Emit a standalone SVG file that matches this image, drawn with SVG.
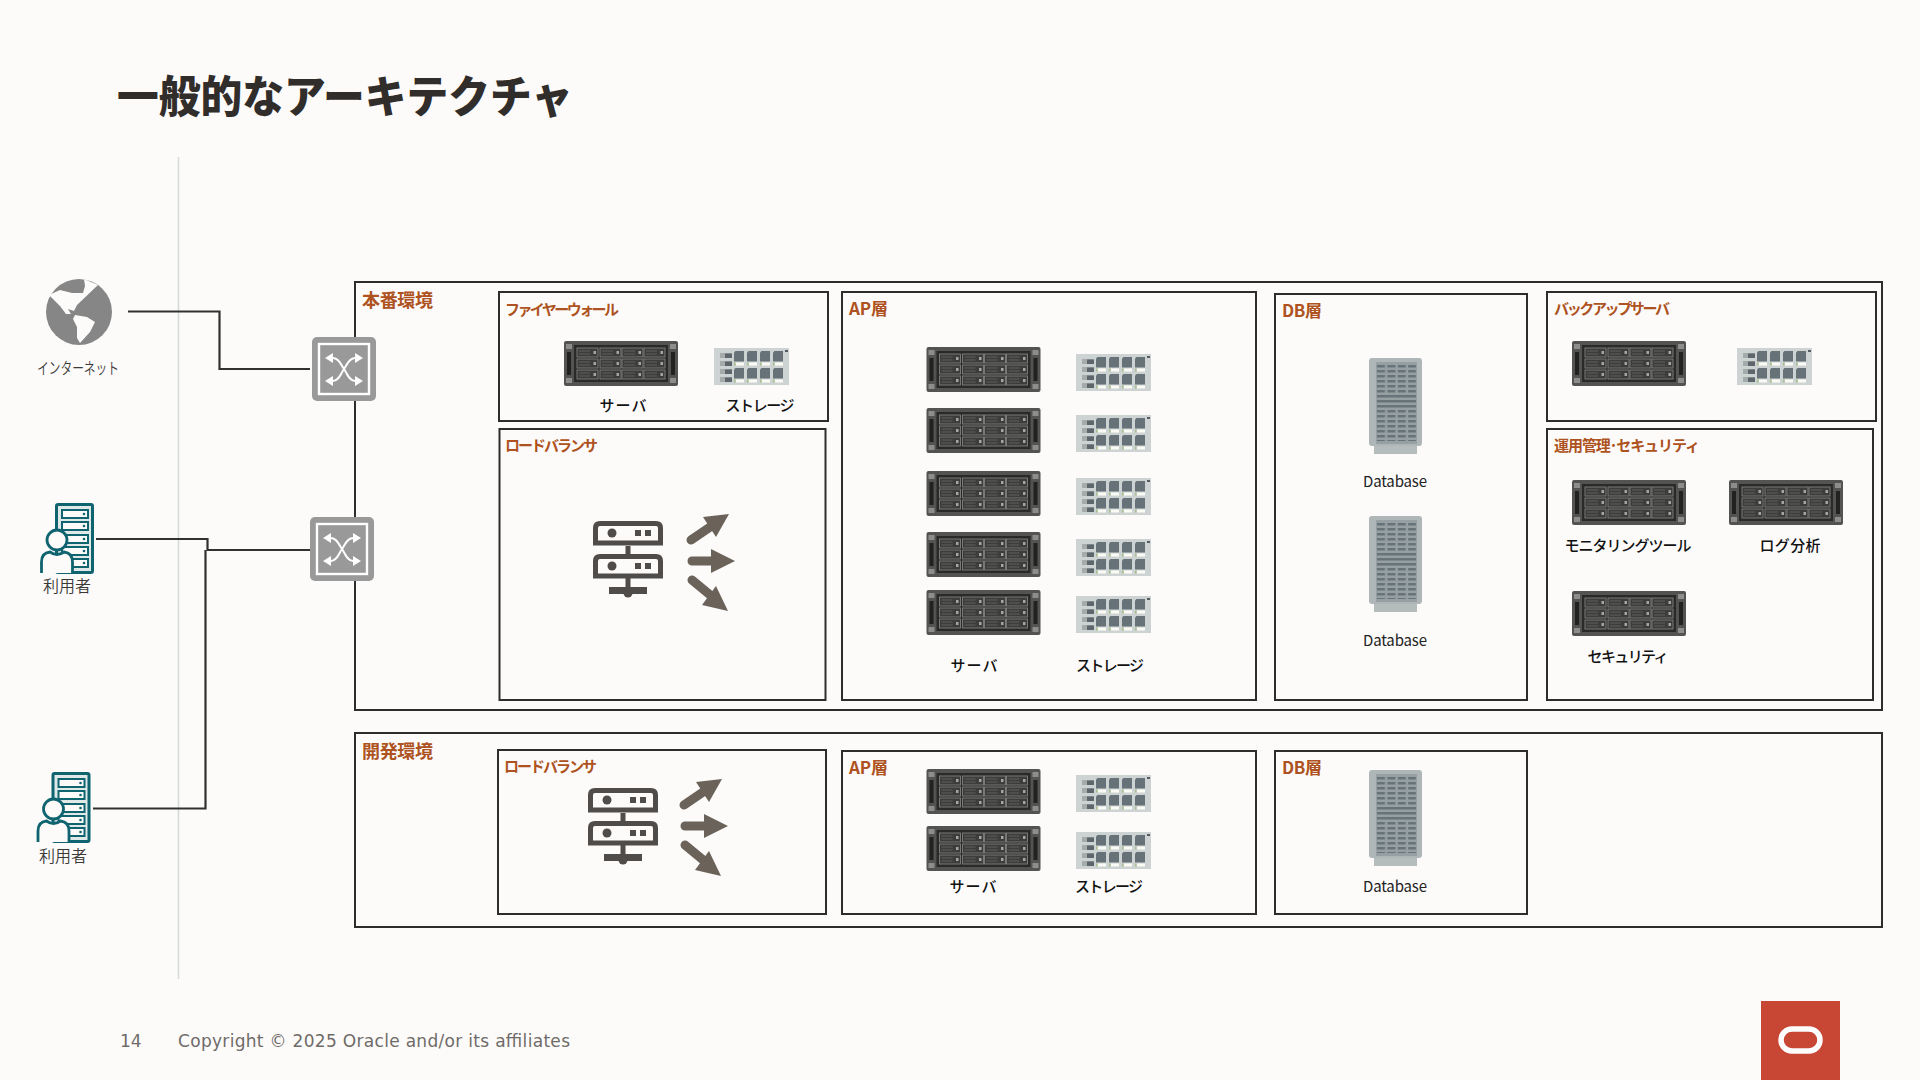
<svg xmlns="http://www.w3.org/2000/svg" width="1920" height="1080" viewBox="0 0 1920 1080">
<style>
text{font-family:"Noto Sans CJK JP","Noto Sans",sans-serif}
.title{font-size:44px;font-weight:900;fill:#312d2a}
.env{font-size:18px;font-weight:700;fill:#ad5220}
.tier{font-size:15px;font-weight:700;fill:#ad5220}
.tl{font-size:17px}
.lbl{font-size:15px;font-weight:500;fill:#111;text-anchor:middle}
.dbl{font-size:15px;font-weight:400;fill:#222;text-anchor:middle}
.usr{font-size:16px;font-weight:350;fill:#3a3937;text-anchor:middle}
.foot{font-family:"DejaVu Sans",sans-serif;font-size:17px;fill:#6f6b68}
.box{fill:none;stroke:#2f2d2b;stroke-width:2}
.conn{fill:none;stroke:#33312f;stroke-width:2.2}
.lb-dark{fill:none;stroke:#4f4c4a;stroke-width:5}
</style>
<defs>
<g id="cell">
<rect width="21" height="9" fill="#3d3d3b" stroke="#797977" stroke-width="1"/>
<path d="M2 3H13M2 6H13" stroke="#6a6a68" stroke-width="0.800"/>
<rect x="16.500" y="3" width="2.500" height="3" fill="#a5a5a3"/>
</g>
<g id="server">
<rect width="114" height="45" rx="2" fill="#535351"/>
<rect x="2" y="3" width="6" height="5" fill="#8d8d8b"/><rect x="106" y="3" width="6" height="5" fill="#8d8d8b"/>
<rect x="2" y="37" width="6" height="5" fill="#8d8d8b"/><rect x="106" y="37" width="6" height="5" fill="#8d8d8b"/>
<rect x="3" y="11" width="4" height="23" fill="#222"/><rect x="107" y="11" width="4" height="23" fill="#222"/>
<rect x="10" y="4" width="94" height="37" fill="#2a2a29"/>
<use href="#cell" x="13" y="7"/><use href="#cell" x="36" y="7"/><use href="#cell" x="58" y="7"/><use href="#cell" x="80" y="7"/>
<use href="#cell" x="13" y="18"/><use href="#cell" x="36" y="18"/><use href="#cell" x="58" y="18"/><use href="#cell" x="80" y="18"/>
<use href="#cell" x="13" y="29"/><use href="#cell" x="36" y="29"/><use href="#cell" x="58" y="29"/><use href="#cell" x="80" y="29"/>
</g>
<g id="stcell">
<path d="M1.500 0H10V10.500H0V1.500Z" fill="#667278"/>
<rect x="2" y="11.500" width="8" height="3" fill="#fbfbf6"/>
<rect y="11.500" width="1.500" height="3" fill="#a9c08a"/>
</g>
<g id="stmod"><rect width="12" height="5" fill="#a3abab"/><rect x="5" y="0.500" width="7" height="4.500" fill="#5d676b"/></g>
<g id="storage">
<rect width="75" height="37" fill="#cdd3d2"/>
<use href="#stmod" x="6" y="5"/><use href="#stmod" x="6" y="13"/><use href="#stmod" x="6" y="21"/><use href="#stmod" x="6" y="29"/>
<use href="#stcell" x="20" y="3"/><use href="#stcell" x="33" y="3"/><use href="#stcell" x="46" y="3"/><use href="#stcell" x="59" y="3"/>
<use href="#stcell" x="20" y="20"/><use href="#stcell" x="33" y="20"/><use href="#stcell" x="46" y="20"/><use href="#stcell" x="59" y="20"/>
<rect x="71" y="2" width="3" height="2" fill="#555f63"/>
</g>
<pattern id="dbq" width="10.400" height="5" patternUnits="userSpaceOnUse" x="8" y="7"><rect width="8" height="2.500" fill="#667378"/></pattern>
<g id="db">
<rect x="5" y="84" width="43" height="12" fill="#b5bcbc"/>
<rect width="53" height="88" rx="3" fill="#aeb6b7"/>
<rect x="7" y="4" width="41" height="82" fill="#96a0a3"/>
<rect x="8" y="7" width="39" height="29" fill="url(#dbq)"/>
<rect x="8" y="37" width="39" height="2.500" fill="#667378"/><rect x="8" y="42" width="39" height="2.500" fill="#667378"/><rect x="8" y="47" width="39" height="2.500" fill="#667378"/>
<rect x="8" y="52" width="39" height="31" fill="url(#dbq)"/>
</g>
<g id="switch">
<rect width="64" height="64" rx="5" fill="#999"/>
<rect x="7" y="7" width="50" height="50" fill="none" stroke="#fff" stroke-width="2.400"/>
<path d="M16 21H21C27 21 29 28 32 32C35 36 37 44 43 44H48M16 44H21C27 44 29 36 32 32C35 28 37 21 43 21H48" fill="none" stroke="#fff" stroke-width="2"/>
<path d="M13 21L21 16V26ZM13 44L21 39V49ZM51 21L43 16V26ZM51 44L43 39V49Z" fill="#fff"/>
</g>
<g id="lb">
<path class="lb-dark" d="M25.500 43V28Q25.500 23.500 30 23.500H86Q90.500 23.500 90.500 28V43ZM25.500 76V61Q25.500 56.500 30 56.500H86Q90.500 56.500 90.500 61V76Z"/>
<path d="M58 46V56M58 78V92" stroke="#4f4c4a" stroke-width="5" fill="none"/>
<rect x="39" y="87" width="38" height="7" fill="#4f4c4a"/><circle cx="58" cy="93" r="4.500" fill="#4f4c4a"/>
<g fill="#4f4c4a"><circle cx="42" cy="33" r="4.500"/><circle cx="42" cy="66" r="4.500"/><rect x="65" y="30" width="6" height="6"/><rect x="75" y="30" width="6" height="6"/><rect x="65" y="63" width="6" height="6"/><rect x="75" y="63" width="6" height="6"/></g>
</g>
<g id="lbarrows">
<path d="M121 40L146 23M122 61H145M122 80L145 99" stroke="#6b625a" stroke-width="9" stroke-linecap="round" fill="none"/>
<path d="M159 14L133 17L146 37ZM165 61L141 49V73ZM158 111L132 105L146 86Z" fill="#6b625a"/>
</g>
<g id="usersrv">
<rect x="-0.500" y="0.500" width="36" height="68" rx="1.500" fill="#dfe9e8" stroke="#0f6470" stroke-width="3"/>
<g fill="#fcfbfa" stroke="#0f6470" stroke-width="2">
<rect x="5" y="6" width="26" height="8"/><rect x="5" y="18" width="26" height="8"/><rect x="5" y="31" width="26" height="8"/><rect x="5" y="43" width="26" height="8"/><rect x="5" y="55" width="26" height="8"/>
</g>
<g fill="#0f6470"><circle cx="27" cy="10" r="1.300"/><circle cx="27" cy="22" r="1.300"/><circle cx="27" cy="35" r="1.300"/><circle cx="27" cy="47" r="1.300"/><circle cx="27" cy="59" r="1.300"/></g>
<path d="M-15.500 69V58Q-15.500 49 -7 48Q0 53 7 48Q15.500 49 15.500 58V69Z" fill="#fcfbfa"/>
<path d="M-15.500 69V58Q-15.500 49 -7 48Q0 53 7 48Q15.500 49 15.500 58V69" fill="none" stroke="#0f6470" stroke-width="2.800"/>
<circle cx="0" cy="36" r="10" fill="#fcfbfa" stroke="#0f6470" stroke-width="2.800"/>
</g>
</defs>
<rect width="1920" height="1080" fill="#fcfbfa"/>
<text class="title" x="117" y="113" textLength="456" lengthAdjust="spacingAndGlyphs">一般的なアーキテクチャ</text>
<line x1="178.500" y1="157" x2="178.500" y2="979" stroke="#d3dbd8" stroke-width="1.500"/>

<g id="env-prod"><rect class="box" x="355" y="282" width="1527" height="428"/><text class="env" x="362" y="307" textLength="71">本番環境</text></g>
<g id="env-dev"><rect class="box" x="355" y="733" width="1527" height="194"/><text class="env" x="362" y="758" textLength="71">開発環境</text></g>

<g id="connectors">
<path class="conn" d="M128 311.500H219.500V369H310"/>
<path class="conn" d="M96 539H207.500V550H310"/>
<path class="conn" d="M205.500 550V808.500H93"/>
</g>

<g id="firewall">
<rect class="box" x="499" y="292" width="329" height="129"/>
<text class="tier" x="505" y="315" textLength="114">ファイヤーウォール</text>
<use href="#server" x="564" y="341"/><use href="#storage" x="714" y="348"/>
<text class="lbl" x="623" y="411" textLength="47">サーバ</text><text class="lbl" x="760" y="411" textLength="69">ストレージ</text>
</g>
<g id="lb-prod">
<rect class="box" x="499.500" y="429" width="326" height="271"/>
<text class="tier" x="505" y="451" textLength="93">ロードバランサ</text>
<use href="#lb" x="570" y="500"/><use href="#lbarrows" x="570" y="500"/>
</g>
<g id="ap-prod">
<rect class="box" x="842" y="292" width="414" height="408"/>
<text class="tier tl" x="849" y="315" textLength="39">AP層</text>
<use href="#server" x="926.500" y="347"/><use href="#server" x="926.500" y="408"/><use href="#server" x="926.500" y="471"/><use href="#server" x="926.500" y="532"/><use href="#server" x="926.500" y="590"/>
<use href="#storage" x="1076" y="354"/><use href="#storage" x="1076" y="415"/><use href="#storage" x="1076" y="478"/><use href="#storage" x="1076" y="539"/><use href="#storage" x="1076" y="596"/>
<text class="lbl" x="974" y="671" textLength="47">サーバ</text><text class="lbl" x="1110" y="671" textLength="68">ストレージ</text>
</g>
<g id="db-prod">
<rect class="box" x="1275" y="294" width="252" height="406"/>
<text class="tier tl" x="1282" y="317" textLength="40">DB層</text>
<use href="#db" x="1369" y="358"/><text class="dbl" x="1395" y="487" textLength="64">Database</text>
<use href="#db" x="1369" y="516"/><text class="dbl" x="1395" y="646" textLength="64">Database</text>
</g>
<g id="backup">
<rect class="box" x="1547" y="292" width="329" height="129"/>
<text class="tier" x="1554" y="314" textLength="116">バックアップサーバ</text>
<use href="#server" x="1572" y="341"/><use href="#storage" x="1737" y="348"/>
</g>
<g id="ops">
<rect class="box" x="1547" y="429" width="326" height="271"/>
<text class="tier" x="1554" y="451" textLength="146">運用管理･セキュリティ</text>
<use href="#server" x="1572" y="480"/><use href="#server" x="1729" y="480"/><use href="#server" x="1572" y="591"/>
<text class="lbl" x="1628" y="551" textLength="127">モニタリングツール</text><text class="lbl" x="1790" y="551" textLength="61">ログ分析</text><text class="lbl" x="1628" y="662" textLength="81">セキュリティ</text>
</g>
<g id="lb-dev">
<rect class="box" x="498" y="750" width="328" height="164"/>
<text class="tier" x="504" y="772" textLength="93">ロードバランサ</text>
<use href="#lb" x="565" y="767"/><use href="#lbarrows" x="563" y="765"/>
</g>
<g id="ap-dev">
<rect class="box" x="842" y="751" width="414" height="163"/>
<text class="tier tl" x="849" y="774" textLength="39">AP層</text>
<use href="#server" x="926.500" y="769"/><use href="#server" x="926.500" y="826"/><use href="#storage" x="1076" y="775"/><use href="#storage" x="1076" y="832"/>
<text class="lbl" x="973" y="892" textLength="47">サーバ</text><text class="lbl" x="1109" y="892" textLength="68">ストレージ</text>
</g>
<g id="db-dev">
<rect class="box" x="1275" y="751" width="252" height="163"/>
<text class="tier tl" x="1282" y="774" textLength="40">DB層</text>
<use href="#db" x="1369" y="770"/><text class="dbl" x="1395" y="892" textLength="64">Database</text>
</g>

<g id="switch-1"><use href="#switch" x="312" y="337"/></g>
<g id="switch-2"><use href="#switch" x="310" y="517"/></g>
<g id="internet">
<circle cx="79" cy="312" r="33" fill="#868686"/>
<path d="M49 295L60 290L72 293L83 293L85 286L84 279L98 285L77 305L74 311L68 309L71 314L66 314L60 306ZM75 315L87 317L95 322L90 332L80 343L77 338L77 327L73 319Z" fill="#fcfbfa"/>
<text class="usr" x="78" y="374" textLength="82" lengthAdjust="spacingAndGlyphs">インターネット</text>
</g>
<g id="user-1"><use href="#usersrv" x="57" y="504"/><text class="usr" x="67" y="592" textLength="48">利用者</text></g>
<g id="user-2"><use href="#usersrv" x="53.500" y="773"/><text class="usr" x="63" y="862" textLength="48">利用者</text></g>

<g id="footer">
<text class="foot" x="120" y="1047">14</text>
<text class="foot" x="178" y="1047" textLength="392">Copyright © 2025 Oracle and/or its affiliates</text>
<rect x="1761" y="1001" width="79" height="79" fill="#c74634"/>
<rect x="1781" y="1029" width="39" height="22" rx="11" fill="none" stroke="#fff" stroke-width="5.500"/>
</g>
</svg>
